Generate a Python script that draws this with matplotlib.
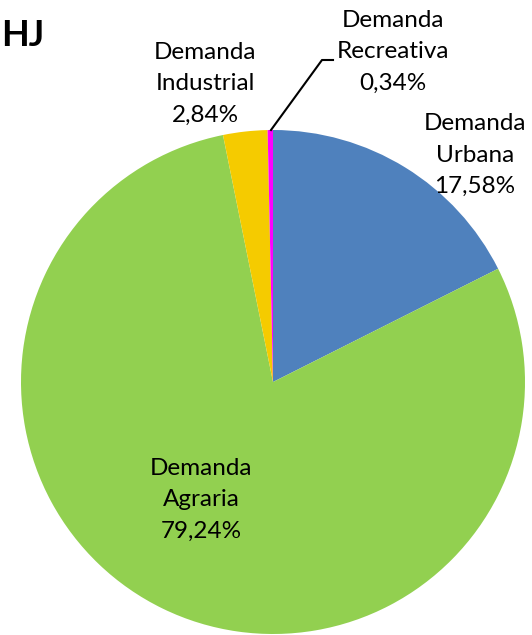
import matplotlib
matplotlib.use("Agg")
import matplotlib.pyplot as plt

# demanda de agua por uso (%)
categorias = ["Demanda\nUrbana", "Demanda\nAgraria", "Demanda\nIndustrial", "Demanda\nRecreativa"]
valores = [17.58, 79.24, 2.84, 0.34]
colores = ["#4F81BD", "#92D050", "#F5CB00", "#FF00FF"]

plt.rcParams['font.family'] = ['Lato', 'DejaVu Sans']

fig = plt.figure(figsize=(5.32, 6.35), dpi=100)
ax = fig.add_axes([0, 0, 1, 1])

# centre of the pie in pixel coords (y up)
cx, cy, r = 273, 253, 252
ax.pie(valores, colors=colores, startangle=90, counterclock=False,
       center=(cx, cy), radius=r, frame=True,
       wedgeprops=dict(linewidth=0))
ax.set_xlim(0, 532)
ax.set_ylim(0, 635)
ax.set_aspect('equal')
ax.axis('off')

# label positions (pixel coords, y up)
pos = [(475, 480), (201, 135), (205, 551), (393, 583)]
for cat, v, (x, y) in zip(categorias, valores, pos):
    txt = cat + "\n" + f"{v:.2f}".replace('.', ',') + "%"
    ax.text(x, y, txt, ha='center', va='center', fontsize=17.5,
            linespacing=1.6, color='black')

# leader line for the small slice
ax.plot([271, 322, 333], [635 - 130, 635 - 60, 635 - 60], color='black', lw=1.5)

ax.text(1, 635 - 36, "HJ", ha='left', va='center', fontsize=26,
        fontweight='bold', color='black')

fig.savefig("out.png", dpi=100)
